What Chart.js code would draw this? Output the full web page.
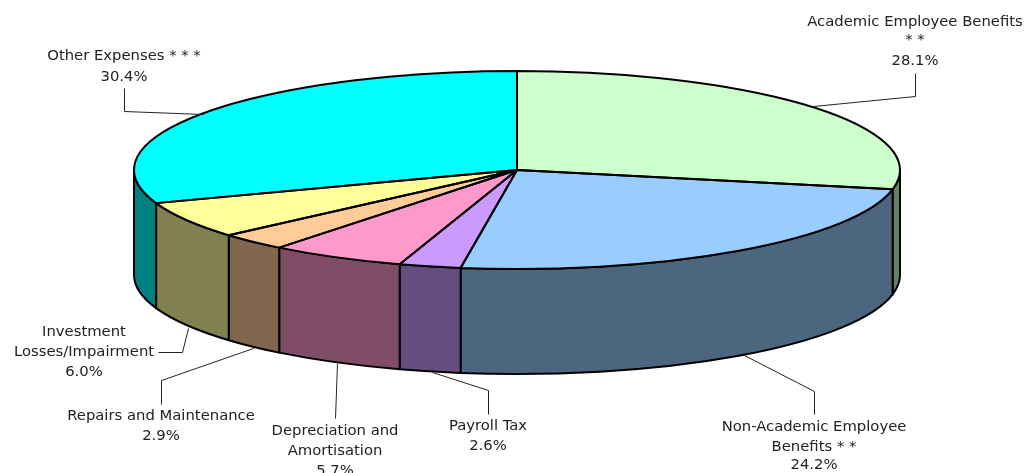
<!DOCTYPE html>
<html>
<head>
<meta charset="utf-8">
<title>Expenses</title>
<script src="https://cdn.jsdelivr.net/npm/chart.js@4/dist/chart.umd.min.js"></script>
<style>
  html, body { margin:0; padding:0; background:#fff; overflow:hidden; }
  canvas { display:block; }
</style>
</head>
<body>
<canvas id="pie" width="1026" height="473"></canvas>
<script>
// Data
const categories = [
  ['Academic Employee Benefits', '* *'],
  ['Non-Academic Employee', 'Benefits * *'],
  ['Payroll Tax'],
  ['Depreciation and', 'Amortisation'],
  ['Repairs and Maintenance'],
  ['Investment', 'Losses/Impairment'],
  ['Other Expenses * * *']
];
const shares = [28.1, 24.2, 2.6, 5.7, 2.9, 6.0, 30.4];

// Farben
const topColors  = ['#CCFFCC', '#99CCFF', '#CC99FF', '#FF99CC', '#FFCC99', '#FFFF99', '#00FFFF'];
const wallColors = ['#668066', '#4D6680', '#664D80', '#804D66', '#806650', '#808050', '#008080'];

// Geometrie der gekippten Scheibe
const CX = 517, CY = 170, RX = 383, RY = 99, DEPTH = 105;

// Beschriftung: Mitte x, y der Zeilen, Fuehrungslinie
const labelBoxes = [
  { x:915, ys:[22, 40, 61],    line:[[813,106],[915,96],[915,73]] },
  { x:814, ys:[427, 447, 465], line:[[744,355],[814,391],[814,414]] },
  { x:488, ys:[426, 446],      line:[[432,372],[488,390],[488,414]] },
  { x:335, ys:[431, 451, 471], line:[[337,363],[335,418]] },
  { x:161, ys:[416, 436],      line:[[253,348],[161,380],[161,404]] },
  { x:84,  ys:[332, 352, 372], line:[[188,328],[182,352],[158,352]] },
  { x:124, ys:[56, 77],        line:[[203,114],[124,111],[124,88]] }
];

const tilted = {
  id: 'tilted',
  beforeDatasetsDraw(c) {
    const ctx = c.ctx;
    const arcs = c.getDatasetMeta(0).data;
    // Seitenwand: nur die vordere Haelfte (0..PI) ist sichtbar
    ctx.save();
    ctx.lineWidth = 2;
    ctx.strokeStyle = '#000';
    ctx.lineJoin = 'round';
    arcs.forEach((el, i) => {
      const a = Math.max(el.startAngle, 0);
      const b = Math.min(el.endAngle, Math.PI);
      if (b <= a) return;
      ctx.beginPath();
      ctx.ellipse(CX, CY, RX, RY, 0, a, b);
      ctx.ellipse(CX, CY + DEPTH, RX, RY, 0, b, a, true);
      ctx.closePath();
      ctx.fillStyle = wallColors[i];
      ctx.fill();
      ctx.stroke();
    });
    ctx.restore();
    // Deckel: Chart.js zeichnet die Segmente, nur gestaucht
    const first = arcs[0];
    ctx.save();
    ctx.translate(CX, CY);
    ctx.scale(RX / first.outerRadius, RY / first.outerRadius);
    ctx.translate(-first.x, -first.y);
  },
  afterDatasetsDraw(c) {
    const ctx = c.ctx;
    ctx.restore();
    const arcs = c.getDatasetMeta(0).data;
    ctx.save();
    ctx.lineWidth = 2;
    ctx.strokeStyle = '#000';
    ctx.lineJoin = 'round';
    arcs.forEach(el => {
      ctx.beginPath();
      ctx.moveTo(CX, CY);
      ctx.ellipse(CX, CY, RX, RY, 0, el.startAngle, el.endAngle);
      ctx.closePath();
      ctx.stroke();
    });
    ctx.restore();
  },
  afterDraw(c) {
    const ctx = c.ctx;
    ctx.save();
    ctx.strokeStyle = '#222';
    ctx.lineWidth = 1;
    ctx.fillStyle = '#222';
    ctx.font = '14.8px "DejaVu Sans", Verdana, sans-serif';
    ctx.textAlign = 'center';
    ctx.textBaseline = 'middle';
    labelBoxes.forEach((box, i) => {
      ctx.beginPath();
      box.line.forEach((p, k) => k ? ctx.lineTo(p[0] + .5, p[1] + .5) : ctx.moveTo(p[0] + .5, p[1] + .5));
      ctx.stroke();
      const lines = categories[i].concat(shares[i].toFixed(1) + '%');
      lines.forEach((txt, k) => ctx.fillText(txt, box.x, box.ys[k]));
    });
    ctx.restore();
  }
};

new Chart(document.getElementById('pie'), {
  type: 'pie',
  data: {
    labels: categories.map(l => l.join(' ')),
    datasets: [{ data: shares, backgroundColor: topColors, borderWidth: 0 }]
  },
  options: {
    responsive: false,
    animation: false,
    events: [],
    plugins: { legend: { display:false }, tooltip: { enabled:false } }
  },
  plugins: [tilted]
});
</script>
</body>
</html>
